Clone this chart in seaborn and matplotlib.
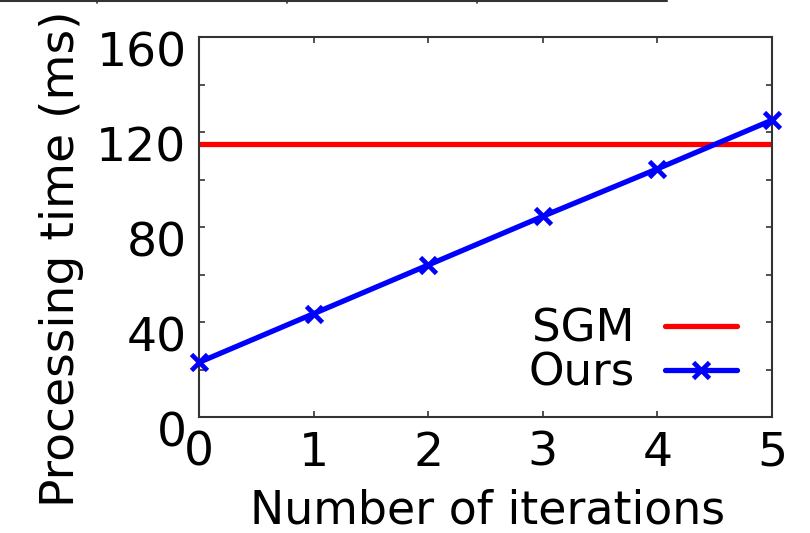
import matplotlib
matplotlib.use("Agg")
import matplotlib.pyplot as plt
from matplotlib.lines import Line2D
from matplotlib.ticker import MultipleLocator
from matplotlib.transforms import ScaledTranslation
import seaborn as sns
import pandas as pd

iterations = [0, 1, 2, 3, 4, 5]
ours_ms = [23, 43.5, 64, 84.5, 104.5, 125]
sgm_ms = 115
y_ticks = [0, 40, 80, 120, 160]
x_ticks = [0, 1, 2, 3, 4, 5]

sns.set_theme(style="ticks")
plt.rcParams['font.family'] = ['DejaVu Sans']
plt.rcParams['text.color'] = 'black'
plt.rcParams['axes.labelcolor'] = 'black'
plt.rcParams['xtick.labelcolor'] = 'black'
plt.rcParams['ytick.labelcolor'] = 'black'

FS = 34

fig = plt.figure(figsize=(8.1, 5.33), dpi=100)
ax = fig.add_axes([199/810, 1-417/533, (772-199)/810, (417-37)/533])

df = pd.DataFrame({"iter": iterations, "ms": ours_ms})
ax.axhline(sgm_ms, color="#ff0000", lw=3.8, label="SGM", zorder=2)
sns.lineplot(data=df, x="iter", y="ms", ax=ax, color="#0000ff", lw=3.8,
             marker="x", markersize=11, markeredgecolor="#0000ff",
             markeredgewidth=3.4, label="Ours", zorder=3, clip_on=False)

ax.set_xlim(0, 5)
ax.set_ylim(0, 160)
ax.set_xticks(x_ticks)
ax.set_yticks(y_ticks)
ax.yaxis.set_minor_locator(MultipleLocator(20))
ax.tick_params(which="both", direction="in", top=True, right=True,
               length=4, width=1.2, labelsize=FS, color="#333333")
ax.tick_params(axis="x", pad=10)
ax.tick_params(axis="y", pad=9)
for s in ax.spines.values():
    s.set_linewidth(1.5)
    s.set_color("#333333")

shift = ScaledTranslation(0, -12/100, fig.dpi_scale_trans)
for lab in ax.get_yticklabels():
    lab.set_transform(lab.get_transform() + shift)

ax.set_xlabel("Number of iterations", fontsize=33, va="top")
ax.xaxis.set_label_coords(0.503, -0.188)
ax.set_ylabel("Processing time (ms)", fontsize=34)
ax.yaxis.set_label_coords(-0.2, 0.416)

leg = ax.legend(loc="lower right", markerfirst=False, frameon=False,
                fontsize=32.5, handlelength=1.6, handletextpad=0.68,
                labelspacing=0.02, borderaxespad=0.37, borderpad=0.4,
                bbox_to_anchor=(1.0, -0.032))

# remnant axis line of a plot above (cropped)
fig.add_artist(Line2D([0, 667/810], [1-1/533, 1-1/533], color="#333333", lw=1.5))
for xp in [97, 287, 477]:
    fig.add_artist(Line2D([xp/810, xp/810], [1-1/533, 1-3/533], color="#333333", lw=1.2))

fig.savefig("out.png", dpi=100)
